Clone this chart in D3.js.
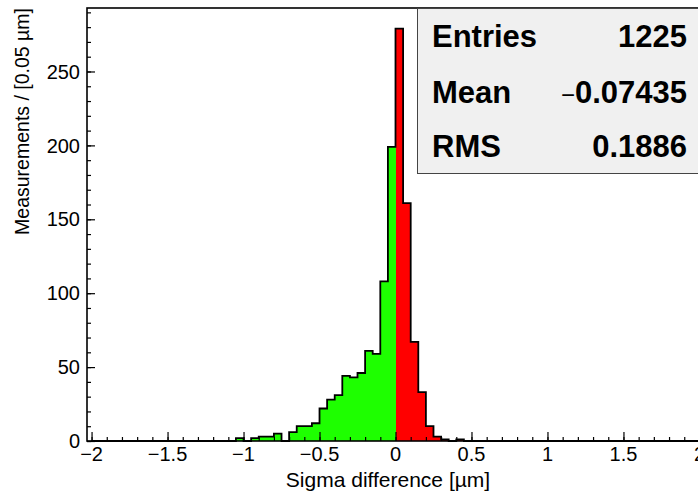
<!DOCTYPE html>
<html><head><meta charset="utf-8">
<script src="https://cdn.jsdelivr.net/npm/d3@7"></script>
<style>body{margin:0;background:#fff}svg{display:block}</style>
</head><body>
<script>
// ---- data ----
const binStart = -2, binWidth = 0.05;
const counts = [
  0,0,0,0,0,0,0,0,0,0,      // -2.00 .. -1.55
  0,0,0,0,0,0,0,0,0,2,      // -1.50 .. -1.05
  0,2,3,3,5,0,6,10,10,12,   // -1.00 .. -0.55
  22,28,31,44,43,46,61,59,108,199, // -0.50 .. -0.05
  279,161,67,33,10,3,1,0,1,0,      // 0.00 .. 0.45
  0,0,0,0,0,0,0,0,0,0,      // 0.50 .. 0.95
  0,0,0,0,0,0,0,0,0,0,      // 1.00 .. 1.45
  0,0,0,0,0,0,0,0,0,0       // 1.50 .. 1.95
];
const xTicks = [-2,-1.5,-1,-0.5,0,0.5,1,1.5,2];
const xTickLabels = ["\u22122","\u22121.5","\u22121","\u22120.5","0","0.5","1","1.5","2"];
const yTicks = [0,50,100,150,200,250];
const statLabels = ["Entries","Mean","RMS"];
const statValues = ["1225","\u22120.07435","0.1886"];
const xTitle = "Sigma difference [\u00b5m]";
const yTitle = "Measurements / [0.05 \u00b5m]";

// ---- layout ----
const W = 698, H = 492;
const frame = {l: 87, r: 704, t: 8, b: 441};
const font = "'Liberation Sans', Arial, Helvetica, sans-serif";

const x = d3.scaleLinear().domain([-2.03, 2.03]).range([frame.l, frame.r]);
const y = d3.scaleLinear().domain([0, 292.95]).range([frame.b, frame.t]);

const svg = d3.select("body").append("svg").attr("width", W).attr("height", H)
  .style("font-family", font);
svg.append("rect").attr("width", W).attr("height", H).attr("fill", "#fff");

const bins = counts.map((c, i) => ({lo: binStart + i*binWidth, hi: binStart + (i+1)*binWidth, c}));

// fills
svg.append("g").selectAll("rect").data(bins.filter(d => d.c > 0)).join("rect")
  .attr("x", d => x(d.lo)).attr("width", d => x(d.hi) - x(d.lo))
  .attr("y", d => y(d.c)).attr("height", d => y(0) - y(d.c))
  .attr("fill", d => d.lo < 0 ? "#1eff00" : "#ff0000")
  .attr("shape-rendering", "crispEdges");

// outline
const pts = [[x(binStart), y(0)]];
bins.forEach(d => { pts.push([x(d.lo), y(d.c)]); pts.push([x(d.hi), y(d.c)]); });
pts.push([x(bins[bins.length-1].hi), y(0)]);
svg.append("path").attr("d", d3.line()(pts)).attr("fill", "none")
  .attr("stroke", "#000").attr("stroke-width", 1.8).attr("stroke-linejoin", "miter");

// frame
svg.append("rect").attr("x", frame.l).attr("y", frame.t)
  .attr("width", frame.r - frame.l).attr("height", frame.b - frame.t)
  .attr("fill", "none").attr("stroke", "#000").attr("stroke-width", 1.6);

// y axis
const yMinor = d3.range(0, 291, 10);
svg.append("g").attr("transform", `translate(${frame.l},0)`)
  .call(d3.axisRight(y).tickValues(yMinor).tickSize(4).tickFormat(""))
  .call(g => g.select(".domain").remove());
svg.append("g").attr("transform", `translate(${frame.l},0)`)
  .call(d3.axisRight(y).tickValues(yTicks).tickSize(8).tickFormat(""))
  .call(g => g.select(".domain").remove());
svg.selectAll(".tick line").attr("stroke", "#000").attr("stroke-width", 1.2);
svg.append("g").selectAll("text").data(yTicks).join("text")
  .attr("x", frame.l - 7).attr("y", d => y(d)).attr("dy", "0.36em")
  .attr("text-anchor", "end").attr("font-size", 20).text(d => d);

// x axis
const xMinor = d3.range(-20, 21).map(v => v/10);
svg.append("g").attr("transform", `translate(0,${frame.b})`)
  .call(d3.axisTop(x).tickValues(xMinor).tickSize(4).tickFormat(""))
  .call(g => g.select(".domain").remove())
  .selectAll("line").attr("stroke", "#000").attr("stroke-width", 1.2);
svg.append("g").attr("transform", `translate(0,${frame.b})`)
  .call(d3.axisTop(x).tickValues(xTicks).tickSize(9).tickFormat(""))
  .call(g => g.select(".domain").remove())
  .selectAll("line").attr("stroke", "#000").attr("stroke-width", 1.2);
svg.append("g").selectAll("text").data(xTicks).join("text")
  .attr("x", d => x(d)).attr("y", 461)
  .attr("text-anchor", "middle").attr("font-size", 20)
  .text((d, i) => xTickLabels[i]);

// titles
svg.append("text").attr("x", 388).attr("y", 487).attr("text-anchor", "middle")
  .attr("font-size", 21).text(xTitle);
svg.append("text").attr("transform", `translate(29,${frame.t}) rotate(-90)`)
  .attr("text-anchor", "end").attr("font-size", 19.5).text(yTitle);

// stats box
svg.append("rect").attr("x", 417.5).attr("y", 8.5).attr("width", 300).attr("height", 165)
  .attr("fill", "#f0f0f0").attr("stroke", "#444").attr("stroke-width", 1);
const rowY = [47, 102.5, 156.5];
statLabels.forEach((s, i) => {
  svg.append("text").attr("x", 432).attr("y", rowY[i]).attr("font-size", 31)
    .attr("font-weight", "bold").text(s);
  const v = statValues[i];
  const t = svg.append("text").attr("x", 687).attr("y", rowY[i]).attr("font-size", 31)
    .attr("font-weight", "bold").attr("text-anchor", "end");
  if (v.startsWith("\u2212")) {
    t.append("tspan").attr("font-weight", "normal").attr("font-size", 24).text("\u2212");
    t.append("tspan").text(v.slice(1));
  } else t.text(v);
});
</script>
</body></html>
